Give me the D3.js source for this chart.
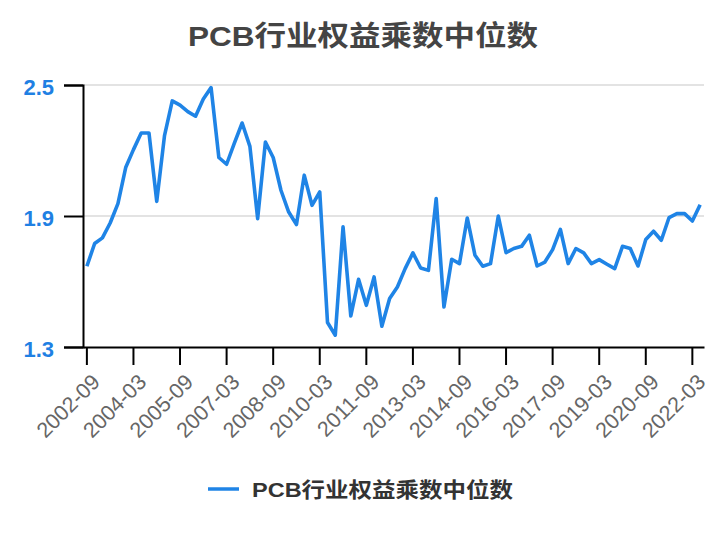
<!DOCTYPE html>
<html><head><meta charset="utf-8">
<script src="https://cdn.jsdelivr.net/npm/d3@7"></script>
<style>
body{margin:0;background:#fff;}
text{font-family:"Liberation Sans",Arial,"Noto Sans CJK SC",sans-serif;}
</style></head>
<body><svg id="c" width="724" height="540"></svg>
<script>
const title = "PCB行业权益乘数中位数";
const seriesName = "PCB行业权益乘数中位数";
const quarters = (() => { const q=[]; for(let yr=2002;yr<=2022;yr++) for(const m of ["03","06","09","12"]) { const s=yr+"-"+m; if(s>="2002-09" && s<="2022-06") q.push(s);} return q; })();
const values = [
 1.67,1.774,1.80,1.868,1.957,2.122,2.204,2.28,2.28,1.967,
 2.268,2.427,2.408,2.378,2.357,2.436,2.488,2.168,2.137,2.234,
 2.326,2.219,1.888,2.239,2.168,2.018,1.918,1.861,2.087,1.949,
 2.01,1.412,1.354,1.85,1.442,1.61,1.491,1.621,1.395,1.522,
 1.575,1.659,1.731,1.662,1.651,1.98,1.483,1.702,1.682,1.891,
 1.72,1.67,1.682,1.90,1.732,1.751,1.761,1.812,1.671,1.689,
 1.746,1.839,1.682,1.751,1.731,1.682,1.70,1.679,1.659,1.761,
 1.751,1.671,1.792,1.83,1.789,1.893,1.911,1.911,1.877,1.952
];
const yTicks = [1.3, 1.9, 2.5];
const xTickLabels = quarters.filter((d,i)=>i%6===0);

const svg = d3.select("#c");
const mLeft=83, mRight=704, mTop=85, mBottom=347;
const x = d3.scaleBand().domain(quarters).range([mLeft,mRight]);
const xc = d => x(d)+x.bandwidth()/2;
const y = d3.scaleLinear().domain([1.3,2.5]).range([mBottom,mTop]);

// gridlines
svg.append("g").selectAll("line").data(yTicks.slice(1)).join("line")
  .attr("x1",mLeft).attr("x2",mRight).attr("y1",d=>y(d)).attr("y2",d=>y(d))
  .attr("stroke","#e3e3e3").attr("stroke-width",2);

// y axis
const ya = svg.append("g").attr("transform",`translate(${mLeft},0)`)
  .call(d3.axisLeft(y).tickValues(yTicks).tickSize(19).tickFormat(d3.format(".1f")));
ya.select(".domain").attr("stroke","#000").attr("stroke-width",2);
ya.selectAll(".tick line").attr("stroke","#000").attr("stroke-width",2);
ya.selectAll(".tick text").attr("x",-29).attr("dy","0.42em").attr("fill","#1f80e3")
  .attr("font-size",22).attr("font-weight","bold");

// x axis
const xa = svg.append("g").attr("transform",`translate(0,${mBottom})`)
  .call(d3.axisBottom(x).tickValues(xTickLabels).tickSize(18).tickSizeOuter(0));
xa.select(".domain").attr("stroke","#000").attr("stroke-width",2);
xa.selectAll(".tick line").attr("stroke","#000").attr("stroke-width",2);
xa.selectAll(".tick text").attr("fill","#666").attr("font-size",21.5)
  .attr("text-anchor","end").attr("dy","0.35em")
  .attr("transform","translate(9,31) rotate(-45)").attr("y",0).attr("x",0);

// line
svg.append("path").datum(values.map((v,i)=>[quarters[i],v]))
  .attr("fill","none").attr("stroke","#1f84e6").attr("stroke-width",3.6)
  .attr("stroke-linejoin","round")
  .attr("d", d3.line().x(d=>xc(d[0])).y(d=>y(d[1])));

// title
svg.append("text").attr("x",363).attr("y",46).attr("text-anchor","middle")
  .attr("font-size",28).attr("font-weight","bold").attr("fill","#444")
  .attr("textLength",350).attr("lengthAdjust","spacingAndGlyphs").text(title);

// legend
svg.append("line").attr("x1",208).attr("x2",239).attr("y1",489).attr("y2",489)
  .attr("stroke","#1f84e6").attr("stroke-width",3.5);
svg.append("text").attr("x",252).attr("y",497).attr("font-size",21).attr("font-weight","bold")
  .attr("fill","#333").attr("textLength",261).attr("lengthAdjust","spacingAndGlyphs").text(seriesName);
</script></body></html>
